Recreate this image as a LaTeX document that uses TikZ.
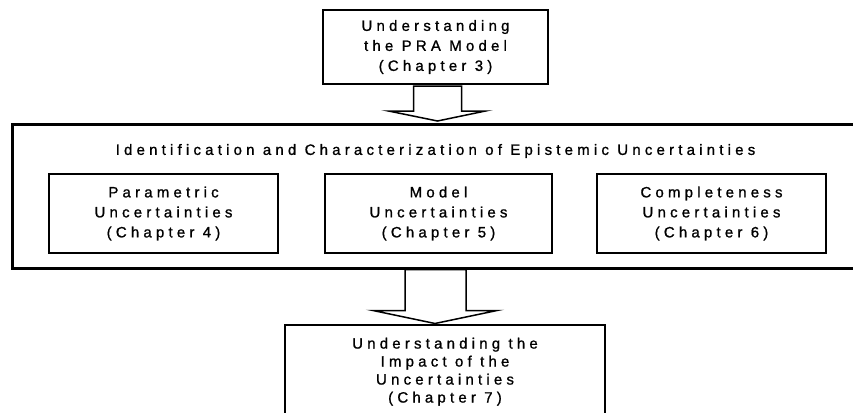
\documentclass[tikz,border=0pt]{standalone}
\usepackage{fontspec}
\newfontfamily\diagfont[LetterSpace=28, FakeBold=1]{Liberation Sans}
\usetikzlibrary{calc}
\tikzset{
  every node/.style={font=\diagfont\fontsize{15}{20}\selectfont, align=center, inner sep=0pt},
  chapbox/.style={draw, line width=2pt, minimum width=229pt, minimum height=79pt},
  groupbox/.style={draw, line width=3pt, minimum width=844pt, minimum height=144pt},
  blockarrow/.style={draw, line width=1.5pt, line join=miter},
}
\begin{document}
\begin{tikzpicture}[x=1pt,y=-1pt]
\useasboundingbox (0,0) rectangle (853,412);

% top: the PRA model
\node[draw, line width=2pt, minimum width=225pt, minimum height=74pt] (pra) at (435.5,47)
  {Understanding\\the PRA Model\\(Chapter 3)};

% middle group with its three kinds of uncertainty
\node[groupbox] (epi) at (434,196) {};
\node (epititle) at (435.5,151)
  {Identification and Characterization of Epistemic Uncertainties};
\node[chapbox] (param) at (163.5,213.5) {Parametric\\Uncertainties\\(Chapter 4)};
\node[chapbox, minimum width=227pt] (model) at (438.5,213.5) {Model\\Uncertainties\\(Chapter 5)};
\node[chapbox] (compl) at (711.5,213.5) {Completeness\\Uncertainties\\(Chapter 6)};

% bottom: impact of the uncertainties (box runs past the lower edge)
\node[draw, line width=2pt, minimum width=320pt, anchor=north, inner ysep=12.7pt,
      text depth=110pt, font=\diagfont\fontsize{15}{18}\selectfont] (impact) at (445,324)
  {Understanding the\\Impact of the\\Uncertainties\\(Chapter 7)};

% block arrows between the stages
\draw[blockarrow] ($(pra.south)+(-22,1)$) -- ++(48,0) -- ++(0,25) -- ++(24,0)
  -- ++(-48,10) -- ++(-49,-10) -- ++(25,0) -- cycle;
\draw[blockarrow] ($(epi.south)+(-29,0)$) -- ++(61,0) -- ++(0,41) -- ++(31,0)
  -- ++(-62,13) -- ++(-62,-13) -- ++(32,0) -- cycle;
\end{tikzpicture}
\end{document}
